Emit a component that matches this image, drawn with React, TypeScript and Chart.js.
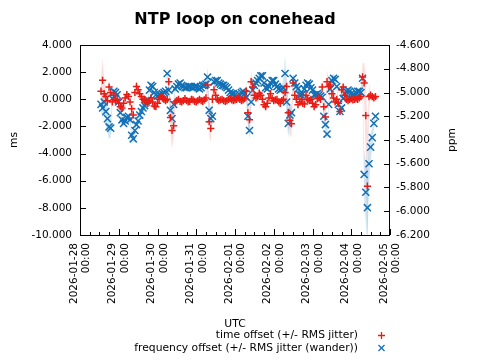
import React, { useEffect, useRef } from 'react';
import { Chart, registerables } from 'chart.js';

Chart.register(...registerables);

// ---- data ----
const TITLE = 'NTP loop on conehead';
const Y_TITLE = 'ms';
const Y2_TITLE = 'ppm';
const X_TITLE = 'UTC';
const LEGEND_LABELS = ['time offset (+/- RMS jitter)', 'frequency offset (+/- RMS jitter (wander))'];

const DAY_LABELS = ['2026-01-28', '2026-01-29', '2026-01-30', '2026-01-31', '2026-02-01', '2026-02-02', '2026-02-03', '2026-02-04', '2026-02-05'];
const DAY_HOURS = [0, 24, 48, 72, 96, 120, 144, 168, 192];
const TIME_LABEL = '00:00';
const MINOR_HOURS = 6;
const MS_TICKS = [4, 2, 0, -2, -4, -6, -8, -10];
const PPM_TICKS = [-4.6, -4.8, -5.0, -5.2, -5.4, -5.6, -5.8, -6.0, -6.2];

// samples: hours after 2026-01-28 00:00 UTC
const START_HOUR = 13;
const STEP_HOURS = 1;

const TIME_OFFSET_MS = [
  0.6, 1.4, 0.4, 0.2, -0.1, 0.9, 0.5, -0.2, 0.3, -0.1,
  0.0, -0.3, -0.55, -0.65, -0.3, 0.1, 0.35, 0.2, -0.2, -0.7,
  -1.15, 0.5, 0.95, 0.7, 0.4, 0.2, 0.0, -0.1, -0.2, -0.3,
  -0.1, 0.1, -0.2, -0.5, -0.55, -0.3, 0.0, 0.2, 0.1, 0.0,
  -0.1, 0.0, 1.3, -1.35, -2.3, -1.95, -0.2, -0.1, 0.0, -0.15,
  -0.2, -0.1, 0.05, -0.1, -0.2, -0.15, 0.0, -0.05, -0.15, -0.2,
  -0.1, 0.0, -0.1, -0.15, -0.05, 0.1, 1.05, -1.65, -2.15, 0.0,
  0.7, 0.3, 0.0, -0.1, -0.05, 0.0, -0.1, -0.15, -0.1, 0.0,
  0.05, -0.05, -0.1, -0.05, 0.0, 0.1, 0.0, -0.1, -0.05, 0.05,
  0.6, -1.0, -1.5, 1.3, 0.9, 0.3, 0.1, 0.2, 0.45, 0.3,
  0.0, -0.4, -0.55, -0.3, 0.1, 0.4, 0.05, -0.1, -0.05, 0.0,
  -0.2, -0.3, -0.1, 0.0, 0.5, 0.95, -1.0, -1.55, -1.8, 1.2,
  0.3, 0.0, -0.4, -0.2, 0.0, -0.3, -0.35, 0.3, 0.0, -0.1,
  0.0, -0.3, -0.55, -0.4, 0.05, 0.1, 0.0, 0.9, -0.55, -1.3,
  1.3, 0.95, 1.05, 0.4, 0.1, -0.2, 0.0, -0.3, -0.9, 0.7,
  0.9, 0.3, 0.0, -0.1, 0.0, 0.05, -0.05, 0.0, 0.05, 0.0,
  0.1, 0.2, 1.65, 1.2, -1.2, -6.4, 0.2, 0.3, 0.2, 0.1,
  0.2,
];

const TIME_JITTER_MS = [
  1.0, 1.6, 1.0, 0.6, 0.4, 0.5, 0.4, 0.3, 0.3, 0.2,
  0.2, 0.2, 0.3, 0.3, 0.2, 0.2, 0.2, 0.2, 0.3, 0.4,
  0.5, 0.4, 0.4, 0.3, 0.2, 0.2, 0.15, 0.15, 0.15, 0.15,
  0.15, 0.15, 0.2, 0.2, 0.2, 0.15, 0.15, 0.15, 0.1, 0.1,
  0.1, 0.3, 1.0, 1.2, 1.3, 1.0, 0.5, 0.3, 0.2, 0.2,
  0.15, 0.15, 0.15, 0.2, 0.2, 0.2, 0.15, 0.15, 0.15, 0.15,
  0.15, 0.15, 0.15, 0.15, 0.15, 0.3, 0.9, 1.1, 1.0, 0.5,
  0.3, 0.2, 0.15, 0.15, 0.1, 0.1, 0.1, 0.1, 0.1, 0.1,
  0.1, 0.1, 0.1, 0.1, 0.1, 0.1, 0.1, 0.1, 0.1, 0.2,
  0.6, 0.9, 1.0, 0.8, 0.5, 0.3, 0.3, 0.3, 0.3, 0.3,
  0.3, 0.3, 0.3, 0.3, 0.2, 0.2, 0.15, 0.15, 0.15, 0.15,
  0.15, 0.15, 0.15, 0.2, 0.5, 0.9, 1.0, 1.1, 1.0, 0.6,
  0.3, 0.2, 0.2, 0.2, 0.15, 0.15, 0.15, 0.2, 0.15, 0.15,
  0.15, 0.2, 0.2, 0.2, 0.15, 0.15, 0.15, 0.5, 0.8, 0.9,
  0.8, 0.6, 0.4, 0.3, 0.2, 0.2, 0.2, 0.3, 0.4, 0.3,
  0.3, 0.2, 0.15, 0.1, 0.1, 0.1, 0.1, 0.1, 0.1, 0.1,
  0.1, 0.3, 1.0, 1.5, 3.0, 4.0, 1.0, 0.3, 0.2, 0.2,
  0.2,
];

const FREQ_OFFSET_PPM = [
  -5.10, -5.13, -5.08, -5.16, -5.22, -5.29, -5.30, -5.05, -4.99, -5.00,
  -5.02, -5.08, -5.17, -5.23, -5.26, -5.24, -5.21, -5.20, -5.23, -5.36,
  -5.39, -5.32, -5.27, -5.24, -5.19, -5.16, -5.13, -5.11, -5.08, -5.06,
  -4.98, -4.94, -4.95, -5.00, -5.02, -5.03, -5.02, -5.02, -5.01, -5.00,
  -4.99, -4.84, -4.98, -5.15, -5.22, -5.10, -4.97, -4.95, -4.93, -4.92,
  -4.94, -4.95, -4.96, -4.96, -4.95, -4.95, -4.95, -4.96, -4.95, -4.95,
  -4.96, -4.97, -4.96, -4.94, -4.94, -4.93, -4.87, -5.15, -5.22, -5.20,
  -4.91, -4.90, -4.90, -4.92, -4.93, -4.94, -4.94, -4.95, -4.96, -4.98,
  -5.00, -5.01, -5.01, -5.02, -5.03, -5.04, -5.02, -5.00, -4.99, -5.01,
  -5.04, -5.20, -5.32, -5.08, -4.98, -4.94, -4.92, -4.90, -4.88, -4.86,
  -4.86, -4.92, -4.96, -4.97, -4.95, -4.92, -4.90, -4.90, -4.93, -4.95,
  -4.97, -4.98, -4.97, -4.96, -4.84, -5.08, -5.26, -5.19, -5.17, -4.88,
  -4.92, -4.95, -4.97, -5.02, -5.02, -5.01, -4.97, -4.94, -4.92, -4.93,
  -4.96, -4.98, -5.02, -5.02, -5.01, -5.02, -5.03, -5.04, -5.20, -5.27,
  -5.35, -5.10, -4.97, -4.90, -4.88, -4.89, -4.95, -5.10, -5.16, -5.13,
  -5.05, -5.01, -4.99, -4.98, -4.99, -5.01, -5.02, -5.02, -5.00, -4.99,
  -4.99, -5.00, -4.88, -5.69, -5.84, -5.97, -5.60, -5.46, -5.38, -5.26,
  -5.20,
];

const FREQ_JITTER_PPM = [
  0.06, 0.08, 0.10, 0.12, 0.12, 0.10, 0.08, 0.05, 0.03, 0.02,
  0.02, 0.03, 0.03, 0.03, 0.03, 0.02, 0.02, 0.02, 0.03, 0.04,
  0.04, 0.03, 0.02, 0.02, 0.02, 0.02, 0.02, 0.02, 0.02, 0.02,
  0.03, 0.03, 0.02, 0.02, 0.01, 0.01, 0.01, 0.01, 0.01, 0.01,
  0.02, 0.04, 0.05, 0.06, 0.06, 0.05, 0.03, 0.02, 0.02, 0.02,
  0.02, 0.02, 0.01, 0.01, 0.01, 0.01, 0.01, 0.01, 0.01, 0.01,
  0.01, 0.01, 0.01, 0.02, 0.02, 0.03, 0.08, 0.10, 0.08, 0.05,
  0.04, 0.03, 0.03, 0.02, 0.02, 0.02, 0.02, 0.02, 0.02, 0.02,
  0.02, 0.02, 0.01, 0.01, 0.01, 0.01, 0.01, 0.01, 0.02, 0.03,
  0.05, 0.08, 0.08, 0.06, 0.04, 0.03, 0.03, 0.03, 0.03, 0.03,
  0.03, 0.02, 0.02, 0.02, 0.02, 0.02, 0.02, 0.02, 0.02, 0.02,
  0.02, 0.02, 0.03, 0.08, 0.15, 0.15, 0.12, 0.08, 0.06, 0.04,
  0.03, 0.02, 0.02, 0.02, 0.02, 0.02, 0.02, 0.02, 0.02, 0.02,
  0.02, 0.02, 0.02, 0.02, 0.01, 0.01, 0.02, 0.03, 0.05, 0.06,
  0.06, 0.05, 0.04, 0.04, 0.04, 0.03, 0.03, 0.04, 0.04, 0.03,
  0.02, 0.02, 0.02, 0.01, 0.01, 0.01, 0.01, 0.01, 0.01, 0.01,
  0.02, 0.03, 0.06, 0.20, 0.25, 0.30, 0.20, 0.12, 0.08, 0.05,
  0.04,
];

// ---- styles ----
const FONT = '"DejaVu Sans", sans-serif';
const RED = 'rgb(232, 28, 20)';
const BLUE = 'rgb(18, 112, 182)';
const RED_BAND = 'rgba(240, 70, 70, 0.18)';
const BLUE_BAND = 'rgba(60, 150, 210, 0.25)';

const hourOf = (i: number) => START_HOUR + i * STEP_HOURS;
const series = (vals: number[]) => vals.map((v, i) => ({ x: hourOf(i), y: v }));
const band = (vals: number[], jit: number[], sign: number) =>
  vals.map((v, i) => ({ x: hourOf(i), y: v + sign * jit[i] }));

const decorPlugin = {
  id: 'decor',
  afterDraw(chart: any) {
    const { ctx, chartArea: a, scales } = chart;
    ctx.save();
    // frame
    ctx.strokeStyle = '#000';
    ctx.lineWidth = 1;
    ctx.strokeRect(a.left + 0.5, a.top + 0.5, a.right - a.left - 1, a.bottom - a.top);
    // inward ticks
    ctx.beginPath();
    scales.y.ticks.forEach((t: any) => {
      const y = Math.round(scales.y.getPixelForValue(t.value)) + 0.5;
      ctx.moveTo(a.left, y);
      ctx.lineTo(a.left + 6, y);
    });
    scales.y2.ticks.forEach((t: any) => {
      const y = Math.round(scales.y2.getPixelForValue(t.value)) + 0.5;
      ctx.moveTo(a.right, y);
      ctx.lineTo(a.right - 6, y);
    });
    const xMin = DAY_HOURS[0];
    const xMax = DAY_HOURS[DAY_HOURS.length - 1];
    for (let h = xMin; h <= xMax; h += MINOR_HOURS) {
      const x = Math.round(scales.x.getPixelForValue(h)) + 0.5;
      const len = h % 24 === 0 ? 6 : 3;
      ctx.moveTo(x, a.bottom);
      ctx.lineTo(x, a.bottom - len);
    }
    ctx.stroke();

    const cx = (a.left + a.right) / 2;
    const cy = (a.top + a.bottom) / 2;
    ctx.fillStyle = '#000';
    ctx.textBaseline = 'middle';
    ctx.textAlign = 'center';
    ctx.font = `bold 16px ${FONT}`;
    ctx.fillText(TITLE, cx, 20);

    ctx.font = `10.75px ${FONT}`;
    ctx.save();
    ctx.translate(14, cy);
    ctx.rotate(-Math.PI / 2);
    ctx.fillText(Y_TITLE, 0, 0);
    ctx.restore();
    ctx.save();
    ctx.translate(452, cy);
    ctx.rotate(-Math.PI / 2);
    ctx.fillText(Y2_TITLE, 0, 0);
    ctx.restore();

    ctx.fillText(X_TITLE, cx, 324);

    // legend
    ctx.textAlign = 'right';
    ctx.fillText(LEGEND_LABELS[0], 358, 335);
    ctx.fillText(LEGEND_LABELS[1], 358, 348);
    ctx.lineWidth = 1.3;
    ctx.strokeStyle = RED;
    ctx.beginPath();
    ctx.moveTo(378, 335.5); ctx.lineTo(385, 335.5);
    ctx.moveTo(381.5, 332); ctx.lineTo(381.5, 339);
    ctx.stroke();
    ctx.strokeStyle = BLUE;
    ctx.beginPath();
    ctx.moveTo(378.5, 345); ctx.lineTo(384.5, 351);
    ctx.moveTo(384.5, 345); ctx.lineTo(378.5, 351);
    ctx.stroke();
    ctx.restore();
  },
};

export default function App() {
  const ref = useRef<HTMLCanvasElement | null>(null);

  useEffect(() => {
    if (!ref.current) return;
    const tickFont = { family: FONT, size: 10.5 };
    const chart = new Chart(ref.current, {
      type: 'line',
      data: {
        datasets: [
          {
            label: LEGEND_LABELS[0],
            data: series(TIME_OFFSET_MS),
            yAxisID: 'y',
            showLine: false,
            pointStyle: 'cross',
            pointRadius: 3.6,
            pointBorderWidth: 1.5,
            borderColor: RED,
            backgroundColor: RED,
            order: 0,
          },
          {
            label: LEGEND_LABELS[1],
            data: series(FREQ_OFFSET_PPM),
            yAxisID: 'y2',
            showLine: false,
            pointStyle: 'crossRot',
            pointRadius: 5,
            pointBorderWidth: 1.5,
            borderColor: BLUE,
            backgroundColor: BLUE,
            order: 1,
          },
          {
            label: 'time jitter upper',
            data: band(TIME_OFFSET_MS, TIME_JITTER_MS, 1),
            yAxisID: 'y',
            pointRadius: 0,
            borderWidth: 0,
            borderColor: 'transparent',
            backgroundColor: RED_BAND,
            fill: 3,
            order: 3,
          },
          {
            label: 'time jitter lower',
            data: band(TIME_OFFSET_MS, TIME_JITTER_MS, -1),
            yAxisID: 'y',
            pointRadius: 0,
            borderWidth: 0,
            borderColor: 'transparent',
            fill: false,
            order: 3,
          },
          {
            label: 'freq jitter upper',
            data: band(FREQ_OFFSET_PPM, FREQ_JITTER_PPM, 1),
            yAxisID: 'y2',
            pointRadius: 0,
            borderWidth: 0,
            borderColor: 'transparent',
            backgroundColor: BLUE_BAND,
            fill: 5,
            order: 2,
          },
          {
            label: 'freq jitter lower',
            data: band(FREQ_OFFSET_PPM, FREQ_JITTER_PPM, -1),
            yAxisID: 'y2',
            pointRadius: 0,
            borderWidth: 0,
            borderColor: 'transparent',
            fill: false,
            order: 2,
          },
        ],
      },
      options: {
        animation: false,
        responsive: false,
        devicePixelRatio: 1,
        events: [],
        layout: { padding: { top: 45, left: 0, right: 0, bottom: 0 } },
        plugins: {
          legend: { display: false },
          title: { display: false },
          tooltip: { enabled: false },
        },
        scales: {
          x: {
            type: 'linear',
            min: DAY_HOURS[0],
            max: DAY_HOURS[DAY_HOURS.length - 1],
            afterBuildTicks: (s: any) => {
              s.ticks = DAY_HOURS.map((v) => ({ value: v }));
            },
            afterFit: (s: any) => {
              s.height = 125;
            },
            grid: { display: false, drawTicks: false },
            border: { display: false },
            ticks: {
              autoSkip: false,
              minRotation: 90,
              maxRotation: 90,
              padding: 8,
              labelOffset: -6,
              color: '#000',
              font: tickFont,
              callback: (v: any) => [DAY_LABELS[DAY_HOURS.indexOf(Number(v))], TIME_LABEL],
            },
          },
          y: {
            type: 'linear',
            position: 'left',
            min: MS_TICKS[MS_TICKS.length - 1],
            max: MS_TICKS[0],
            afterBuildTicks: (s: any) => {
              s.ticks = MS_TICKS.map((v) => ({ value: v }));
            },
            afterFit: (s: any) => {
              s.width = 80;
            },
            grid: { display: false, drawTicks: false },
            border: { display: false },
            ticks: {
              padding: 8,
              color: '#000',
              font: tickFont,
              callback: (v: any) => Number(v).toFixed(3),
            },
          },
          y2: {
            type: 'linear',
            position: 'right',
            min: PPM_TICKS[PPM_TICKS.length - 1],
            max: PPM_TICKS[0],
            afterBuildTicks: (s: any) => {
              s.ticks = PPM_TICKS.map((v) => ({ value: v }));
            },
            afterFit: (s: any) => {
              s.width = 90;
            },
            grid: { display: false, drawTicks: false },
            border: { display: false },
            ticks: {
              padding: 6,
              color: '#000',
              font: tickFont,
              callback: (v: any) => Number(v).toFixed(3),
            },
          },
        },
      },
      plugins: [decorPlugin],
    } as any);
    return () => chart.destroy();
  }, []);

  return (
    <canvas
      ref={ref}
      width={480}
      height={360}
      style={{ position: 'fixed', left: 0, top: 0, width: 480, height: 360, display: 'block' }}
    />
  );
}
